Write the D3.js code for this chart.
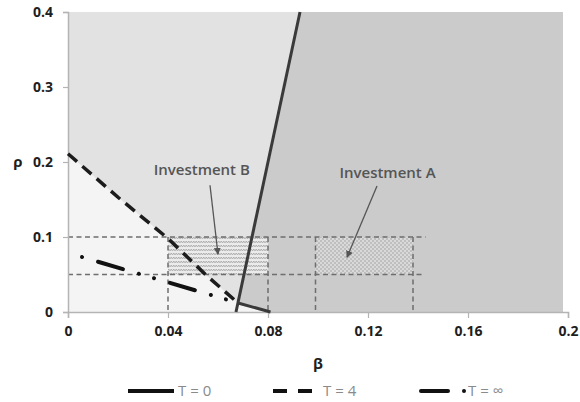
<!DOCTYPE html>
<html>
<head>
<meta charset="utf-8">
<script src="https://cdn.jsdelivr.net/npm/d3@7/dist/d3.min.js"></script>
<style>
  html, body { margin: 0; padding: 0; background: #fff; }
  svg { display: block; }
</style>
</head>
<body>
<svg id="chart" width="580" height="402"></svg>
<script>
// Axis ticks
const betaTicks = [0, 0.04, 0.08, 0.12, 0.16, 0.2];
const betaLabels = ["0", "0.04", "0.08", "0.12", "0.16", "0.2"];
const rhoTicks = [0, 0.1, 0.2, 0.3, 0.4];
const rhoLabels = ["0", "0.1", "0.2", "0.3", "0.4"];

// Boundary curves (β, ρ)
const curveT0 = [[0.0672, 0], [0.0928, 0.4]];
const curveT0Hook = [[0.068, 0.012], [0.081, 0]];
const curveT4 = [[0, 0.211], [0.02, 0.153], [0.04, 0.098], [0.055, 0.05], [0.068, 0.012]];
const curveTinf = [[0.0056, 0.0733], [0.064, 0.016]];

// Shaded areas
const plotBeta = [0, 0.198];
const plotRho = [0, 0.4];
const regionLight = [[0, 0]].concat(curveT4, [[0.081, 0]]);
const regionDark = [[0.0928, 0.4], [0.068, 0.012], [0.081, 0], [0.198, 0], [0.198, 0.4]];

// Investment boxes
const boxB = { beta: [0.04, 0.08], rho: [0.05, 0.1] };
const boxA = { beta: [0.099, 0.138], rho: [0.05, 0.1] };
const guideRho = [0.1, 0.05];
const guideRhoEnd = [0.143, 0.142];
const guideBeta = [0.04, 0.08, 0.099, 0.138];

// Annotations: label, text anchor point, arrow start, arrow tip
const notes = [
  { label: "Investment B", at: [0.0535, 0.183], from: [0.0568, 0.169], to: [0.0600, 0.077] },
  { label: "Investment A", at: [0.1278, 0.179], from: [0.1236, 0.168], to: [0.1116, 0.073] }
];

// Legend entries
const legendLabels = ["T = 0", "T = 4", "T = \u221e"];

const svg = d3.select("#chart");
const x = d3.scaleLinear().domain([0, 0.2]).range([68, 568]);
const y = d3.scaleLinear().domain([0, 0.4]).range([312, 12]);
const line = d3.line().x(d => x(d[0])).y(d => y(d[1]));

const defs = svg.append("defs");

// wavy hatch for box B
const waves = defs.append("pattern").attr("id", "waves")
  .attr("patternUnits", "userSpaceOnUse").attr("width", 5).attr("height", 4);
waves.append("rect").attr("width", 5).attr("height", 4).attr("fill", "#ebebeb");
waves.append("path").attr("d", "M0,3 L1.25,1 L2.5,3 L3.75,1 L5,3")
  .attr("fill", "none").attr("stroke", "#a2a2a2").attr("stroke-width", 0.8);

// dotted hatch for box A
const dots = defs.append("pattern").attr("id", "dots")
  .attr("patternUnits", "userSpaceOnUse").attr("width", 4).attr("height", 4);
dots.append("rect").attr("width", 4).attr("height", 4).attr("fill", "#d9d9d9");
dots.append("circle").attr("cx", 1).attr("cy", 1).attr("r", 0.75).attr("fill", "#999");
dots.append("circle").attr("cx", 3).attr("cy", 3).attr("r", 0.75).attr("fill", "#999");

defs.append("marker").attr("id", "head")
  .attr("viewBox", "0 0 10 10").attr("refX", 9).attr("refY", 5)
  .attr("markerWidth", 7).attr("markerHeight", 7).attr("markerUnits", "userSpaceOnUse")
  .attr("orient", "auto")
  .append("path").attr("d", "M0,0 L10,5 L0,10 Z").attr("fill", "#555");

// background regions
svg.append("rect")
  .attr("x", x(plotBeta[0])).attr("y", y(plotRho[1]))
  .attr("width", x(plotBeta[1]) - x(plotBeta[0]))
  .attr("height", y(plotRho[0]) - y(plotRho[1]))
  .attr("fill", "#e2e2e2");
svg.append("path").attr("d", line(regionLight) + "Z").attr("fill", "#f4f4f4");
svg.append("path").attr("d", line(regionDark) + "Z").attr("fill", "#cbcbcb");

// hatched investment boxes
[[boxB, "url(#waves)"], [boxA, "url(#dots)"]].forEach(([b, f]) => {
  svg.append("rect")
    .attr("x", x(b.beta[0])).attr("y", y(b.rho[1]))
    .attr("width", x(b.beta[1]) - x(b.beta[0]))
    .attr("height", y(b.rho[0]) - y(b.rho[1]))
    .attr("fill", f);
});

// dashed guide lines
const guides = svg.append("g").attr("stroke", "#6e6e6e").attr("stroke-width", 1.5)
  .attr("stroke-dasharray", "5,3.5").attr("fill", "none");
guideRho.forEach((r, i) => {
  guides.append("line").attr("x1", x(0)).attr("x2", x(guideRhoEnd[i]))
    .attr("y1", y(r)).attr("y2", y(r));
});
guideBeta.forEach(b => {
  guides.append("line").attr("x1", x(b)).attr("x2", x(b))
    .attr("y1", y(0.1)).attr("y2", y(0));
});

// axes
const xAxis = svg.append("g").attr("transform", `translate(0,${y(0)})`)
  .call(d3.axisBottom(x).tickValues(betaTicks).tickSize(6).tickPadding(8)
    .tickFormat((d, i) => betaLabels[i]));
const yAxis = svg.append("g").attr("transform", `translate(${x(0)},0)`)
  .call(d3.axisLeft(y).tickValues(rhoTicks).tickSize(5).tickPadding(10)
    .tickFormat((d, i) => rhoLabels[i]));
[xAxis, yAxis].forEach(g => {
  g.select(".domain").attr("stroke", "#b4b4b4").attr("stroke-width", 1.5);
  g.selectAll(".tick line").attr("stroke", "#b4b4b4").attr("stroke-width", 1.2);
  g.selectAll(".tick text").attr("fill", "#1e1e1e")
    .style("font-family", "'Open Sans', sans-serif").style("font-weight", "700")
    .style("font-size", "14px");
});

// boundary curves
svg.append("path").attr("d", line(curveT4)).attr("fill", "none")
  .attr("stroke", "#1c1c1c").attr("stroke-width", 3.5).attr("stroke-dasharray", "12,7");
svg.append("path").attr("d", line(curveTinf)).attr("fill", "none")
  .attr("stroke", "#111").attr("stroke-width", 4).attr("stroke-linecap", "round")
  .attr("stroke-dasharray", "26,16.6,0.1,15.6,0.1,16.6").attr("stroke-dashoffset", 58.3);
[curveT0, curveT0Hook].forEach(c => {
  svg.append("path").attr("d", line(c)).attr("fill", "none")
    .attr("stroke", "#3a3a3a").attr("stroke-width", 3);
});

// annotations
notes.forEach(n => {
  svg.append("text").attr("x", x(n.at[0])).attr("y", y(n.at[1]))
    .attr("text-anchor", "middle").attr("fill", "#555")
    .style("font-family", "'Open Sans', sans-serif").style("font-weight", "600")
    .style("font-size", "15px").text(n.label);
  svg.append("line").attr("x1", x(n.from[0])).attr("y1", y(n.from[1]))
    .attr("x2", x(n.to[0])).attr("y2", y(n.to[1]))
    .attr("stroke", "#555").attr("stroke-width", 1.3).attr("marker-end", "url(#head)");
});

// axis titles
svg.append("text").attr("x", (x(0) + x(0.2)) / 2).attr("y", 369).attr("text-anchor", "middle")
  .attr("fill", "#1e1e1e").style("font-family", "'Open Sans', sans-serif")
  .style("font-weight", "700").style("font-size", "15px").text("β");
svg.append("text").attr("x", 18).attr("y", y(0.2)).attr("dy", "0.32em").attr("text-anchor", "middle")
  .attr("fill", "#1e1e1e").style("font-family", "'Open Sans', sans-serif")
  .style("font-weight", "700").style("font-size", "15px").text("ρ");

// legend
const lg = svg.append("g");
const ly = 391;
lg.append("line").attr("x1", 128).attr("x2", 174).attr("y1", ly).attr("y2", ly)
  .attr("stroke", "#111").attr("stroke-width", 4);
lg.append("line").attr("x1", 273).attr("x2", 312).attr("y1", ly).attr("y2", ly)
  .attr("stroke", "#111").attr("stroke-width", 4).attr("stroke-dasharray", "14,11");
lg.append("line").attr("x1", 421).attr("x2", 448).attr("y1", ly).attr("y2", ly)
  .attr("stroke", "#111").attr("stroke-width", 4).attr("stroke-linecap", "round");
lg.append("circle").attr("cx", 464).attr("cy", ly).attr("r", 2).attr("fill", "#111");
[178, 323, 468].forEach((lx, i) => {
  lg.append("text").attr("x", lx).attr("y", ly).attr("dy", "0.35em")
    .attr("fill", "#8a8a8a").style("font-family", "'Open Sans', sans-serif")
    .style("font-size", "15px").text(legendLabels[i]);
});
</script>
</body>
</html>
